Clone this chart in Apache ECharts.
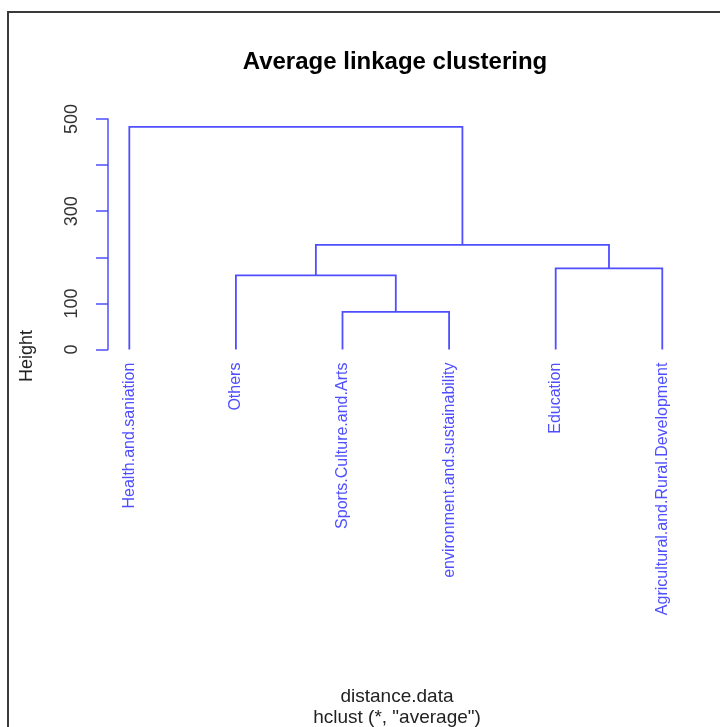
<!DOCTYPE html>
<html>
<head>
<meta charset="utf-8">
<script src="https://cdn.jsdelivr.net/npm/echarts@6/dist/echarts.min.js"></script>
<style>
html,body{margin:0;padding:0;background:#fff;}
#chart{width:720px;height:727px;}
</style>
</head>
<body>
<div id="chart"></div>
<script>
// Leaves in dendrogram display order (left to right)
const leafLabels = ['Health.and.saniation','Others','Sports.Culture.and.Arts','environment.and.sustainability','Education','Agricultural.and.Rural.Development'];
// R-style merge matrix: negative = leaf (1-based in leafLabels), positive = earlier merge step
const mergeA = [-3, -2, -5, 2, -1];
const mergeB = [-4, 1, -6, 3, 4];
const mergeHeight = [82, 161, 176, 227, 483];
// Axis ticks
const yTicks = [0, 100, 200, 300, 400, 500];
const yTickLabels = [0, 100, 300, 500];
const leafPositions = [1, 2, 3, 4, 5, 6];

const FONT = "'Liberation Sans', Arial, Helvetica, sans-serif";
const BLUE = '#4f4fff';

// Build link segments
const clusterX = [];
const nodeInfo = (id) => id < 0 ? {x: leafPositions[-id - 1], h: 0} : {x: clusterX[id - 1], h: mergeHeight[id - 1]};
const linkData = [];
for (let i = 0; i < mergeHeight.length; i++) {
  const a = nodeInfo(mergeA[i]);
  const b = nodeInfo(mergeB[i]);
  clusterX.push((a.x + b.x) / 2);
  linkData.push([a.x, a.h, b.x, b.h, mergeHeight[i]]);
}

const chart = echarts.init(document.getElementById('chart'), null, {renderer: 'canvas'});
chart.setOption({
  animation: false,
  grid: {left: 108, right: 36.4, top: 119, bottom: 377.4, containLabel: false},
  xAxis: {
    type: 'value', min: 0.8, max: 6.2,
    axisLine: {show: false}, axisTick: {show: false}, splitLine: {show: false},
    axisLabel: {
      customValues: leafPositions,
      formatter: (v) => leafLabels[Math.round(v) - 1],
      rotate: 90, margin: 13, color: BLUE, fontSize: 16, fontFamily: FONT
    }
  },
  yAxis: {
    type: 'value', min: 0, max: 500,
    splitLine: {show: false},
    axisLine: {show: true, lineStyle: {color: BLUE, width: 1.5}},
    axisTick: {show: true, customValues: yTicks, length: 12, lineStyle: {color: BLUE, width: 1.5}},
    axisLabel: {
      customValues: yTickLabels, rotate: 90, margin: 27,
      color: '#333', fontSize: 18, fontFamily: FONT
    }
  },
  series: [{
    type: 'custom',
    coordinateSystem: 'cartesian2d',
    clip: false,
    dimensions: ['xa', 'ha', 'xb', 'hb', 'h'],
    encode: {x: [0, 2], y: [1, 3, 4]},
    data: linkData,
    renderItem: function (params, api) {
      const p1 = api.coord([api.value(0), api.value(1)]);
      const p2 = api.coord([api.value(0), api.value(4)]);
      const p3 = api.coord([api.value(2), api.value(4)]);
      const p4 = api.coord([api.value(2), api.value(3)]);
      return {
        type: 'polyline',
        shape: {points: [p1, p2, p3, p4]},
        style: {stroke: BLUE, lineWidth: 1.8, fill: null}
      };
    }
  }],
  graphic: [
    {type: 'rect', shape: {x: 8, y: 12, width: 800, height: 800}, style: {fill: null, stroke: '#3a3a3a', lineWidth: 2}, silent: true},
    {type: 'text', x: 395, y: 62, style: {text: 'Average linkage clustering', font: 'bold 24px ' + FONT, fill: '#000', textAlign: 'center', textVerticalAlign: 'middle'}},
    {type: 'text', x: 27, y: 356, rotation: Math.PI / 2, style: {text: 'Height', font: '18px ' + FONT, fill: '#222', textAlign: 'center', textVerticalAlign: 'middle'}},
    {type: 'text', x: 397, y: 697, style: {text: 'distance.data', font: '19px ' + FONT, fill: '#222', textAlign: 'center', textVerticalAlign: 'middle'}},
    {type: 'text', x: 397, y: 718, style: {text: 'hclust (*, "average")', font: '19px ' + FONT, fill: '#222', textAlign: 'center', textVerticalAlign: 'middle'}}
  ]
});
</script>
</body>
</html>
